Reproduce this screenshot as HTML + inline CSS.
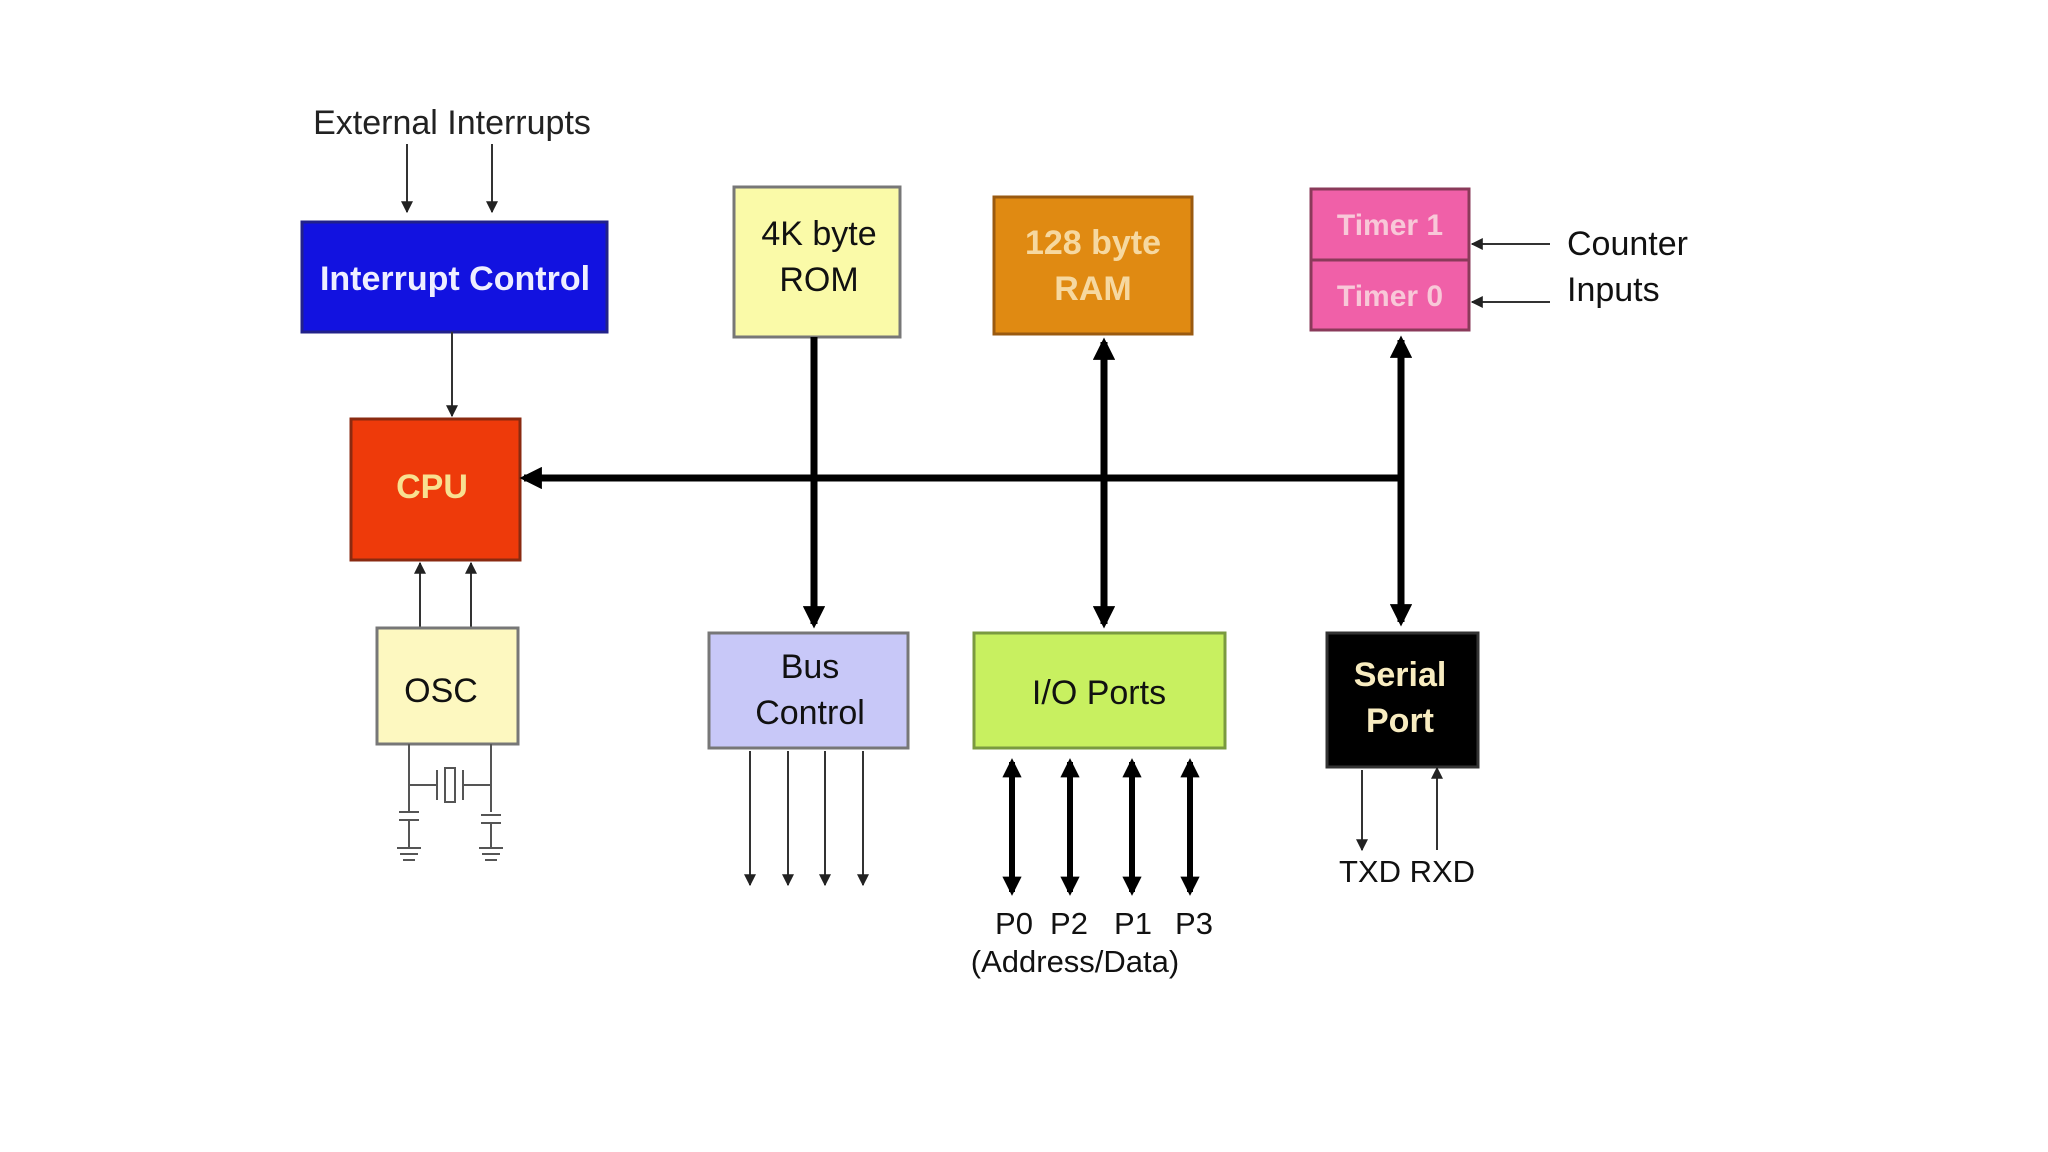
<!DOCTYPE html>
<html><head><meta charset="utf-8"><style>
html,body{margin:0;padding:0;background:#fff;}
svg{display:block;}
text{font-family:"Liberation Sans",Arial,sans-serif;}
</style></head><body>
<svg width="2048" height="1152" viewBox="0 0 2048 1152" xmlns="http://www.w3.org/2000/svg">
<defs>
<marker id="ah" viewBox="0 0 10 10" refX="9" refY="5" markerWidth="4" markerHeight="4" orient="auto-start-reverse"><path d="M0,0 L10,5 L0,10 z" fill="#222"/></marker>
<marker id="ahs" viewBox="0 0 10 10" refX="9" refY="5" markerWidth="6" markerHeight="6" orient="auto-start-reverse"><path d="M0,0 L10,5 L0,10 z" fill="#222"/></marker>
<marker id="ab" viewBox="0 0 10 10" refX="8" refY="5" markerWidth="3.2" markerHeight="3.2" orient="auto-start-reverse"><path d="M0,0 L10,5 L0,10 z" fill="#000"/></marker>
</defs>

<!-- External interrupts -->
<text x="452" y="134" font-size="34" text-anchor="middle" fill="#222">External  Interrupts</text>
<line x1="407" y1="144" x2="407" y2="212" stroke="#333" stroke-width="2" marker-end="url(#ahs)"/>
<line x1="492" y1="144" x2="492" y2="212" stroke="#333" stroke-width="2" marker-end="url(#ahs)"/>

<!-- Interrupt Control -->
<rect x="302" y="222" width="305" height="110" fill="#1212e0" stroke="#22228a" stroke-width="3"/>
<text x="455" y="290" font-size="34" font-weight="bold" text-anchor="middle" fill="#eef">Interrupt Control</text>
<line x1="452" y1="332" x2="452" y2="416" stroke="#333" stroke-width="2" marker-end="url(#ahs)"/>

<!-- CPU -->
<rect x="351" y="419" width="169" height="141" fill="#ee3a0a" stroke="#8a2a10" stroke-width="3"/>
<text x="432" y="498" font-size="34" font-weight="bold" text-anchor="middle" fill="#f8e090">CPU</text>

<!-- OSC arrows -->
<line x1="420" y1="628" x2="420" y2="563" stroke="#333" stroke-width="2" marker-end="url(#ahs)"/>
<line x1="471" y1="628" x2="471" y2="563" stroke="#333" stroke-width="2" marker-end="url(#ahs)"/>
<rect x="377" y="628" width="141" height="116" fill="#fdf8c0" stroke="#777" stroke-width="3"/>
<text x="441" y="702" font-size="34" text-anchor="middle" fill="#111">OSC</text>

<!-- crystal circuit -->
<g stroke="#555" stroke-width="2" fill="none">
<line x1="409" y1="744" x2="409" y2="812"/>
<line x1="491" y1="744" x2="491" y2="812"/>
<line x1="409" y1="785" x2="437" y2="785"/>
<line x1="463" y1="785" x2="491" y2="785"/>
<line x1="437" y1="770" x2="437" y2="800"/>
<line x1="463" y1="770" x2="463" y2="800"/>
<rect x="445" y="768" width="10" height="34"/>
<line x1="399" y1="812" x2="419" y2="812"/>
<line x1="399" y1="820" x2="419" y2="820"/>
<line x1="481" y1="815" x2="501" y2="815"/>
<line x1="481" y1="823" x2="501" y2="823"/>
<line x1="409" y1="820" x2="409" y2="848"/>
<line x1="491" y1="823" x2="491" y2="848"/>
<line x1="397" y1="848" x2="421" y2="848"/>
<line x1="400" y1="854" x2="418" y2="854"/>
<line x1="403" y1="860" x2="415" y2="860"/>
<line x1="479" y1="848" x2="503" y2="848"/>
<line x1="482" y1="854" x2="500" y2="854"/>
<line x1="485" y1="860" x2="497" y2="860"/>
</g>

<!-- ROM -->
<rect x="734" y="187" width="166" height="150" fill="#fafaa8" stroke="#777" stroke-width="3"/>
<text x="819" y="245" font-size="34" text-anchor="middle" fill="#111">4K byte</text>
<text x="819" y="291" font-size="34" text-anchor="middle" fill="#111">ROM</text>

<!-- RAM -->
<rect x="994" y="197" width="198" height="137" fill="#e08a12" stroke="#9a5a10" stroke-width="3"/>
<text x="1093" y="254" font-size="34" font-weight="bold" text-anchor="middle" fill="#f6d8a0">128 byte</text>
<text x="1093" y="300" font-size="34" font-weight="bold" text-anchor="middle" fill="#f6d8a0">RAM</text>

<!-- Timers -->
<rect x="1311" y="189" width="158" height="141" fill="#f060a8" stroke="#8a3a5a" stroke-width="3"/>
<line x1="1311" y1="260" x2="1469" y2="260" stroke="#8a3a5a" stroke-width="3"/>
<text x="1390" y="235" font-size="30" font-weight="bold" text-anchor="middle" fill="#f8c8d8">Timer 1</text>
<text x="1390" y="306" font-size="30" font-weight="bold" text-anchor="middle" fill="#f8c8d8">Timer 0</text>
<text x="1567" y="255" font-size="34" fill="#111">Counter</text>
<text x="1567" y="301" font-size="34" fill="#111">Inputs</text>
<line x1="1550" y1="244" x2="1472" y2="244" stroke="#333" stroke-width="2" marker-end="url(#ahs)"/>
<line x1="1550" y1="302" x2="1472" y2="302" stroke="#333" stroke-width="2" marker-end="url(#ahs)"/>

<!-- Main bus -->
<line x1="1401" y1="478" x2="524" y2="478" stroke="#000" stroke-width="7" marker-end="url(#ab)"/>
<line x1="814" y1="337" x2="814" y2="624" stroke="#000" stroke-width="7" marker-end="url(#ab)"/>
<line x1="1104" y1="342" x2="1104" y2="624" stroke="#000" stroke-width="7" marker-start="url(#ab)" marker-end="url(#ab)"/>
<line x1="1401" y1="340" x2="1401" y2="622" stroke="#000" stroke-width="7" marker-start="url(#ab)" marker-end="url(#ab)"/>

<!-- Bus Control -->
<rect x="709" y="633" width="199" height="115" fill="#c8c8f8" stroke="#777" stroke-width="3"/>
<text x="810" y="678" font-size="34" text-anchor="middle" fill="#111">Bus</text>
<text x="810" y="724" font-size="34" text-anchor="middle" fill="#111">Control</text>
<g stroke="#333" stroke-width="2">
<line x1="750" y1="751" x2="750" y2="885" marker-end="url(#ahs)"/>
<line x1="788" y1="751" x2="788" y2="885" marker-end="url(#ahs)"/>
<line x1="825" y1="751" x2="825" y2="885" marker-end="url(#ahs)"/>
<line x1="863" y1="751" x2="863" y2="885" marker-end="url(#ahs)"/>
</g>

<!-- I/O Ports -->
<rect x="974" y="633" width="251" height="115" fill="#c8f060" stroke="#7a9a40" stroke-width="3"/>
<text x="1099" y="704" font-size="34" text-anchor="middle" fill="#111">I/O Ports</text>
<g stroke="#000" stroke-width="6">
<line x1="1012" y1="762" x2="1012" y2="892" marker-start="url(#ab)" marker-end="url(#ab)"/>
<line x1="1070" y1="762" x2="1070" y2="892" marker-start="url(#ab)" marker-end="url(#ab)"/>
<line x1="1132" y1="762" x2="1132" y2="892" marker-start="url(#ab)" marker-end="url(#ab)"/>
<line x1="1190" y1="762" x2="1190" y2="892" marker-start="url(#ab)" marker-end="url(#ab)"/>
</g>
<g font-size="31" fill="#111" text-anchor="middle">
<text x="1014" y="934">P0</text>
<text x="1069" y="934">P2</text>
<text x="1133" y="934">P1</text>
<text x="1194" y="934">P3</text>
<text x="1075" y="972">(Address/Data)</text>
</g>

<!-- Serial Port -->
<rect x="1327" y="633" width="151" height="134" fill="#000" stroke="#333" stroke-width="3"/>
<text x="1400" y="686" font-size="34" font-weight="bold" text-anchor="middle" fill="#f8ecc0">Serial</text>
<text x="1400" y="732" font-size="34" font-weight="bold" text-anchor="middle" fill="#f8ecc0">Port</text>
<line x1="1362" y1="770" x2="1362" y2="850" stroke="#333" stroke-width="2" marker-end="url(#ahs)"/>
<line x1="1437" y1="850" x2="1437" y2="768" stroke="#333" stroke-width="2" marker-end="url(#ahs)"/>
<text x="1407" y="882" font-size="31" text-anchor="middle" fill="#111">TXD RXD</text>
</svg>
</body></html>
